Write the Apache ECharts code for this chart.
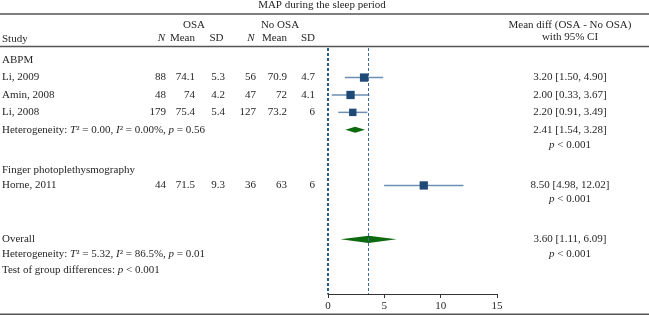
<!DOCTYPE html>
<html><head><meta charset="utf-8">
<script src="https://cdn.jsdelivr.net/npm/echarts@6/dist/echarts.min.js"></script>
<style>html,body{margin:0;padding:0;background:#fff}#c{width:649px;height:315px}</style>
</head><body><div id="c"></div>
<script>
// ---- data ----
const title = 'MAP during the sleep period';
const studies = ['Li, 2009', 'Amin, 2008', 'Li, 2008', 'Horne, 2011'];
const osaN = ['88', '48', '179', '44'];
const osaMean = ['74.1', '74', '75.4', '71.5'];
const osaSD = ['5.3', '4.2', '5.4', '9.3'];
const noN = ['56', '47', '127', '36'];
const noMean = ['70.9', '72', '73.2', '63'];
const noSD = ['4.7', '4.1', '6', '6'];
const studyEst = [3.20, 2.00, 2.20, 8.50];
const studyLo = [1.50, 0.33, 0.91, 4.98];
const studyHi = [4.90, 3.67, 3.49, 12.02];
const studyWeight = [1.0, 1.0, 0.8, 1.0];
const studyRow = [1.7, 2.7, 3.7, 7.9];
const pooledEst = [2.41, 3.60];
const pooledLo = [1.54, 1.11];
const pooledHi = [3.28, 6.09];
const pooledRow = [4.7, 11.0];
const groupLabels = ['ABPM', 'Finger photoplethysmography'];
const groupRow = [0.7, 7.0];
const xTicks = [0, 5, 10, 15];

// ---- styles ----
const FONT = 'Liberation Serif';
const TXT = '#262626';
const FS = 11;
const rich = { i: { fontStyle: 'italic', fontFamily: FONT, fontSize: FS, fill: TXT } };

const chart = echarts.init(document.getElementById('c'), null, { renderer: 'canvas' });
const GRID = { left: 328, width: 169, top: 48, height: 246 };
const YMAX = 14.14;

chart.setOption({
  animation: false,
  backgroundColor: '#fff',
  grid: GRID,
  xAxis: {
    type: 'value', min: xTicks[0], max: xTicks[xTicks.length - 1], interval: 5,
    position: 'bottom',
    axisLine: { onZero: false, lineStyle: { color: '#333', width: 1 } },
    axisTick: { show: true, length: 4, lineStyle: { color: '#333' } },
    splitLine: { show: false },
    axisLabel: { fontFamily: FONT, fontSize: FS, color: TXT, margin: 7 }
  },
  yAxis: { type: 'value', inverse: true, min: 0, max: YMAX, show: false },
  series: [
    {
      type: 'custom', name: 'ci',
      data: studyEst.map((e, i) => [studyLo[i], studyHi[i], studyRow[i]]),
      encode: { x: [0, 1], y: 2 },
      renderItem: (params, api) => {
        const a = api.coord([api.value(0), api.value(2)]);
        const b = api.coord([api.value(1), api.value(2)]);
        return { type: 'line', shape: { x1: a[0], y1: a[1], x2: b[0], y2: b[1] },
          style: { stroke: '#6d8fb3', lineWidth: 1.5 } };
      },
      z: 3
    },
    {
      type: 'scatter', name: 'est',
      data: studyEst.map((e, i) => [e, studyRow[i], studyWeight[i]]),
      symbol: 'rect',
      symbolSize: v => 8.3 * Math.sqrt(v[2]),
      itemStyle: { color: '#1f4a78', opacity: 1 },
      z: 4,
      markLine: {
        silent: true, symbol: 'none', label: { show: false },
        data: [
          { xAxis: 0, lineStyle: { color: '#2c5d8f', width: 2, type: [3, 2] } },
          { xAxis: pooledEst[1], lineStyle: { color: '#3a6a9a', width: 1, type: [3, 2] } }
        ]
      }
    },
    {
      type: 'custom', name: 'pooled',
      data: pooledEst.map((e, i) => [e, pooledLo[i], pooledHi[i], pooledRow[i], i]),
      encode: { x: [0, 1, 2], y: 3 },
      renderItem: (params, api) => {
        const e = api.coord([api.value(0), api.value(3)]);
        const l = api.coord([api.value(1), api.value(3)]);
        const h = api.coord([api.value(2), api.value(3)]);
        const hh = api.value(4) === 1 ? 3.7 : 3;
        return { type: 'polygon', shape: { points: [[l[0], l[1]], [e[0], e[1] - hh], [h[0], h[1]], [e[0], e[1] + hh]] },
          style: { fill: '#0d690d' } };
      },
      z: 4
    }
  ]
});

function py(r) { return chart.convertToPixel({ gridIndex: 0 }, [0, r])[1]; }

const g = [];
function txt(x, y, s, align, extra) {
  g.push({ type: 'text', x: x, y: y, silent: true, z: 10,
    style: Object.assign({ text: s, fontFamily: FONT, fontSize: FS, fill: TXT, align: align || 'left', verticalAlign: 'middle', rich: rich }, extra || {}) });
}
function hline(y, w) {
  g.push({ type: 'line', silent: true, shape: { x1: 0, y1: y, x2: 649, y2: y }, style: { stroke: '#555', lineWidth: w || 1.3 } });
}

// rules
hline(14); hline(46.5); hline(314.3, 1.6);
// title and header
txt(322, 5.5, title, 'center');
txt(194, 25, 'OSA', 'center');
txt(280, 25, 'No OSA', 'center');
txt(2, 39, 'Study');
const colX = [166, 195, 225, 256, 287, 315];
['{i|N}', 'Mean', 'SD', '{i|N}', 'Mean', 'SD'].forEach((h, k) => txt(colX[k] - (k === 0 ? 1 : (k === 2 || k === 3 ? 1.5 : 0)), 38.5, h, 'right'));
txt(570, 25, 'Mean diff (OSA - No OSA)', 'center');
txt(570, 37.5, 'with 95% CI', 'center');

// groups
groupLabels.forEach((s, i) => txt(2, py(groupRow[i]), s));
// studies
studies.forEach((s, i) => {
  const y = py(studyRow[i]);
  txt(2, y, s);
  [osaN, osaMean, osaSD, noN, noMean, noSD].forEach((arr, k) => txt(colX[k], y, arr[i], 'right'));
  txt(570, y, studyEst[i].toFixed(2) + ' [' + studyLo[i].toFixed(2) + ', ' + studyHi[i].toFixed(2) + ']', 'center');
});
// pooled
const fmtP = (i) => pooledEst[i].toFixed(2) + ' [' + pooledLo[i].toFixed(2) + ', ' + pooledHi[i].toFixed(2) + ']';
txt(2, py(4.7), 'Heterogeneity: {i|T}² = 0.00, {i|I}² = 0.00%, {i|p} = 0.56');
txt(570, py(pooledRow[0]), fmtP(0), 'center');
txt(570, py(5.6), '{i|p} < 0.001', 'center');
txt(570, py(8.7), '{i|p} < 0.001', 'center');
txt(2, py(pooledRow[1]), 'Overall');
txt(570, py(pooledRow[1]), fmtP(1), 'center');
txt(2, py(11.85), 'Heterogeneity: {i|T}² = 5.32, {i|I}² = 86.5%, {i|p} = 0.01');
txt(570, py(11.85), '{i|p} < 0.001', 'center');
txt(2, py(12.75), 'Test of group differences: {i|p} < 0.001');

chart.setOption({ graphic: { elements: g } });
</script></body></html>
